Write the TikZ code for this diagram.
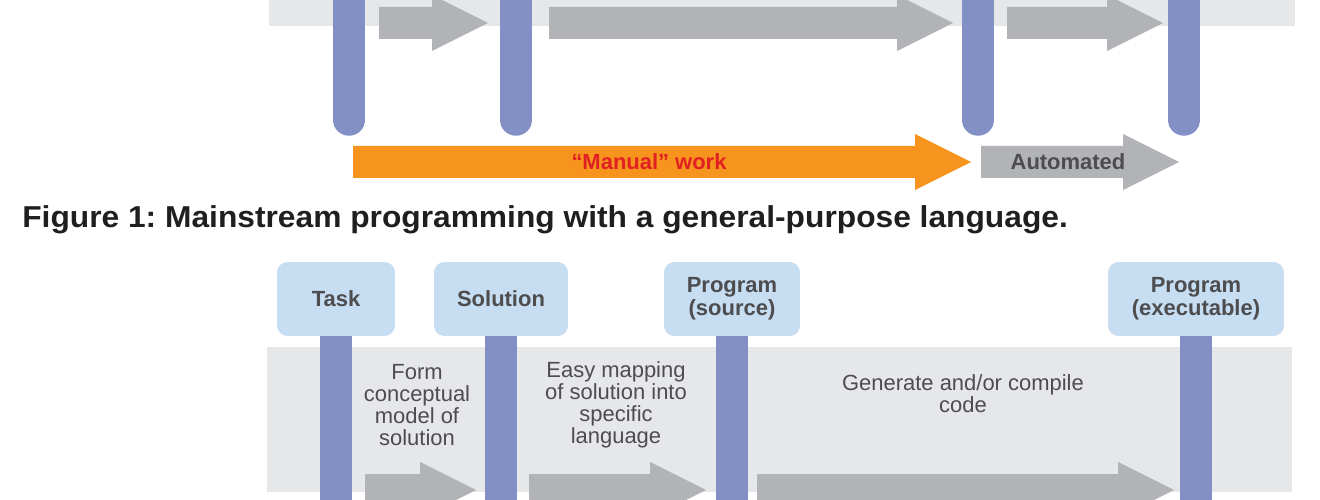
\documentclass[tikz,border=0pt]{standalone}
\usepackage{fontspec}
\setmainfont{Liberation Sans}
\newfontfamily\captionfont[FakeStretch=1.05]{Liberation Sans}
\usepackage{xcolor}
\usetikzlibrary{positioning, calc}
\frenchspacing
\definecolor{barblue}{RGB}{130,144,198}
\definecolor{bandgray}{RGB}{230,231,232}
\definecolor{arrowgray}{RGB}{177,179,182}
\definecolor{workorange}{RGB}{247,148,29}
\definecolor{boxblue}{RGB}{199,221,242}
\definecolor{labelgray}{RGB}{77,77,79}
\definecolor{manualred}{RGB}{225,32,36}
\tikzset{
    stagebox/.style={rectangle, rounded corners=6pt, fill=boxblue,
                     minimum height=1.48cm, inner sep=0pt, align=center,
                     font=\fontsize{12.5}{13}\selectfont\bfseries, text=labelgray},
    band/.style={fill=bandgray},
    bar/.style={line width=0.63cm, draw=barblue},
    steptext/.style={align=center, inner sep=0pt, text=labelgray,
                     font=\fontsize{12.5}{12.5}\selectfont},
    worktext/.style={inner sep=0pt, font=\fontsize{12.5}{12.5}\selectfont\bfseries}
}
% block arrow: tail x, tip x, centre y, colour
\newcommand{\blockarrow}[4]{%
  \fill[#4] (#1,#3-16) -- (#2-56,#3-16) -- (#2-56,#3-28) -- (#2,#3)
     -- (#2-56,#3+28) -- (#2-56,#3+16) -- (#1,#3+16) -- cycle;}

\begin{document}
\begin{tikzpicture}[x=0.02cm, y=-0.02cm]
\clip (0,0) rectangle (1320,500);

% figure 1
\fill[band] (269,-10) rectangle (1295,26);
\blockarrow{379}{488}{23}{arrowgray}
\blockarrow{549}{953}{23}{arrowgray}
\blockarrow{1007}{1163}{23}{arrowgray}
\coordinate (b1) at (349,120);
\coordinate (b2) at (516,120);
\coordinate (b3) at (978,120);
\coordinate (b4) at (1184,120);
\foreach \b in {b1,b2,b3,b4}
  \draw[bar, line cap=round] (\b) -- ++(0,-160);

\blockarrow{353}{971}{162}{workorange}
\blockarrow{981}{1179}{162}{arrowgray}
\node[worktext, text=manualred]  at (649,162) (manual) {“Manual” work};
\node[worktext, text=labelgray]  at (1068,162) (auto)  {Automated};

\node[anchor=base west, inner sep=0pt, text=black!88,
      font=\captionfont\fontsize{17.2}{17.2}\selectfont\bfseries] at (22,228) (caption)
      {Figure 1: Mainstream programming with a general-purpose language.};

% figure 2
\fill[band] (267,347) rectangle (1292,492);
\blockarrow{365}{476}{490}{arrowgray}
\blockarrow{529}{706}{490}{arrowgray}
\blockarrow{757}{1174}{490}{arrowgray}

\node[stagebox, minimum width=2.36cm] at (336,299)  (task)     {Task};
\node[stagebox, minimum width=2.68cm] at (501,299)  (solution) {Solution};
\node[stagebox, minimum width=2.72cm] at (732,299)  (source)   {Program\\(source)};
\node[stagebox, minimum width=3.52cm] at (1196,299) (exec)     {Program\\(executable)};
\foreach \s in {task,solution,source,exec}
  \draw[bar] (\s.south) -- ++(0,200);

\node[steptext] at (417,405) (form)     {Form\\conceptual\\model of\\solution};
\node[steptext] at (616,405) (mapping)  {Easy mapping\\of solution into\\specific\\language};
\node[steptext] at (963,394) (generate) {Generate and/or compile\\code};
\end{tikzpicture}
\end{document}
